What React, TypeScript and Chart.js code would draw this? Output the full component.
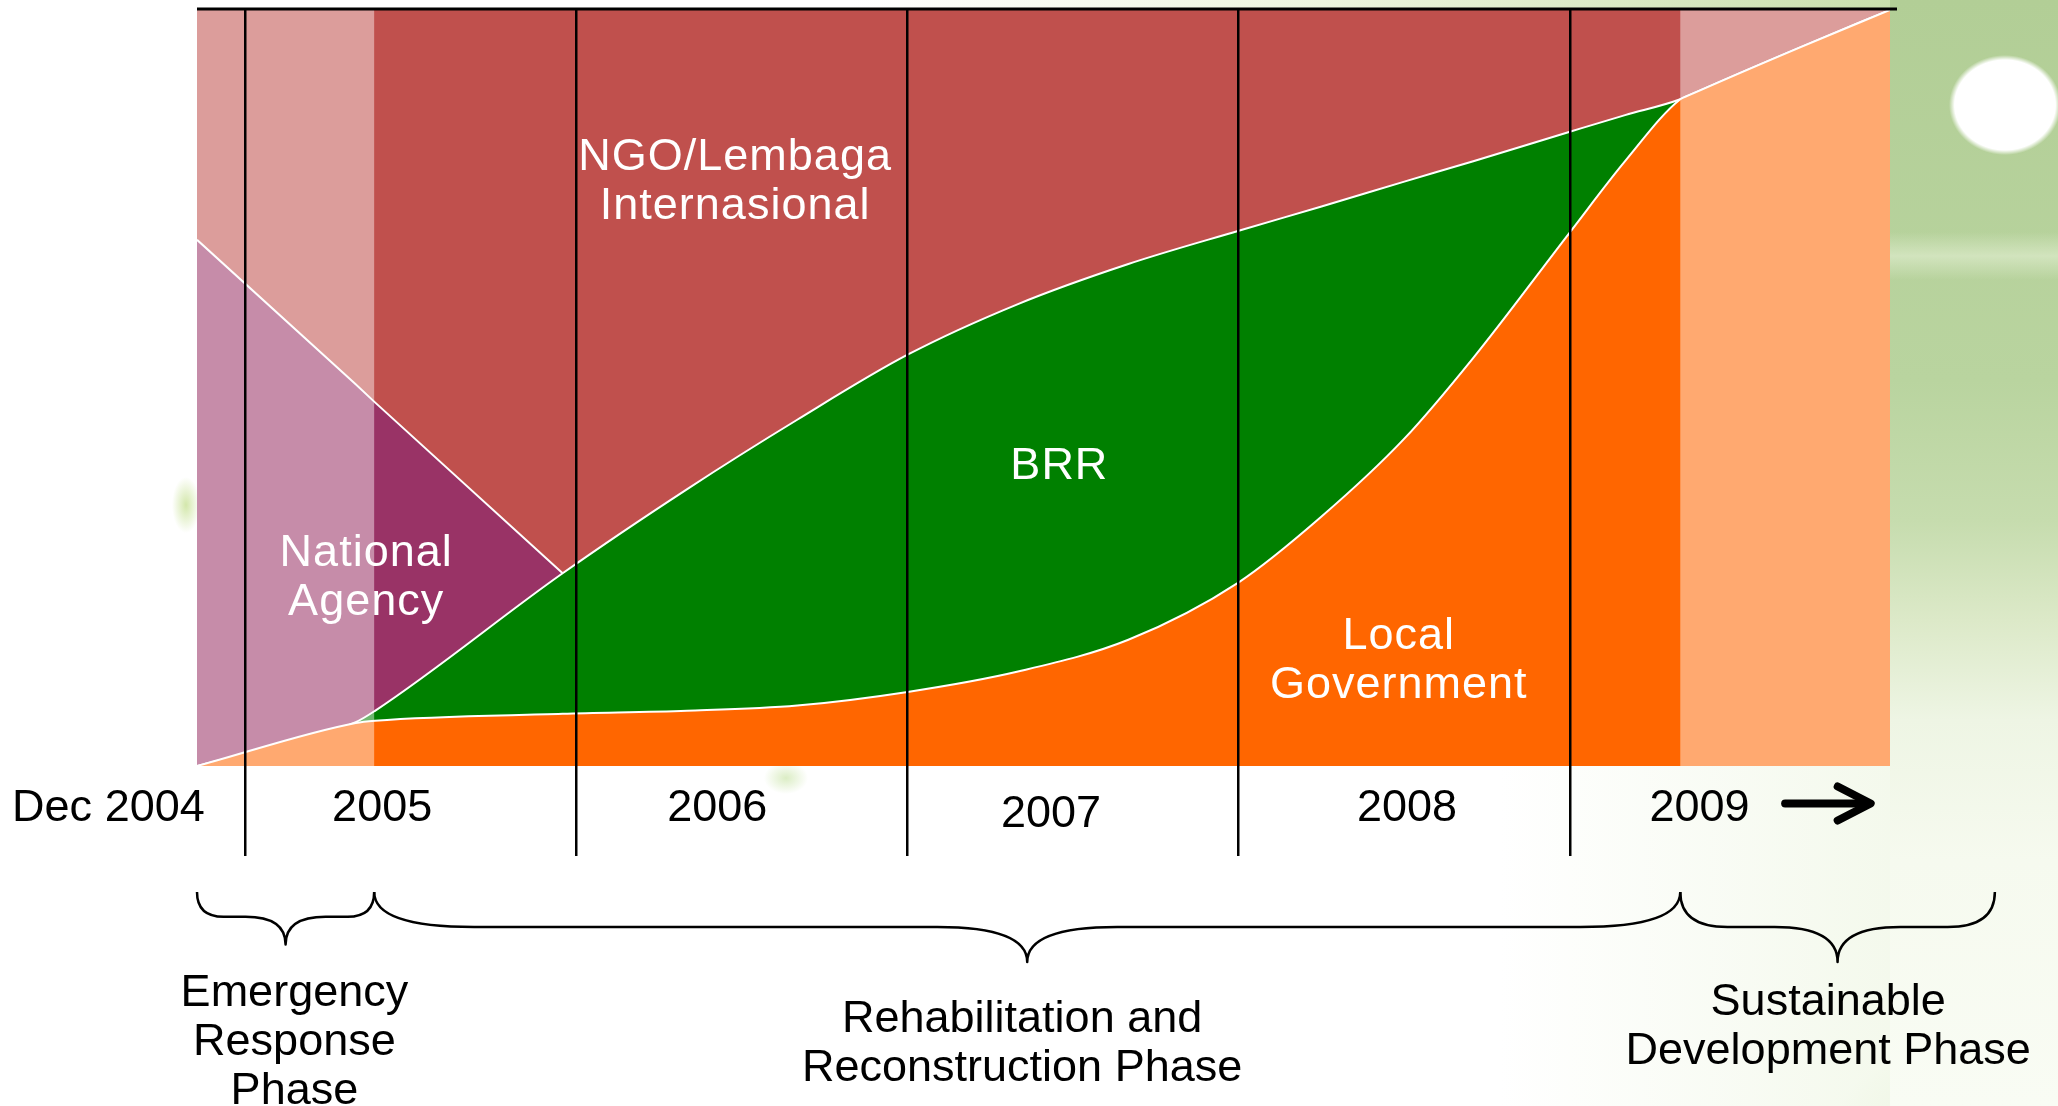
import React, { useEffect, useRef } from 'react';
import { Chart, registerables } from 'chart.js';

Chart.register(...registerables);

// ---- data (x in months counted from the start of 2005; y in % share) ----
const MONTHS = [-1.75, 4, 4.7, 11.5, 16, 20, 24, 28, 32, 36, 39, 42, 44.5, 48, 50, 52, 52.3, 56.3, 59.6];
const LOCAL_GOVERNMENT = [0, 5.7, 6.0, 6.9, 7.3, 8.0, 9.8, 12.5, 16.7, 24.3, 33.0, 43.3, 54.0, 70.6, 80.0, 88.2, 88.7, 95.0, 100];
const BRR = [0, 0.1, 1.3, 18.6, 29.3, 37.8, 44.6, 48.6, 49.7, 46.5, 41.0, 34.0, 26.0, 13.3, 6.1, 0, 0, 0, 0];
const NATIONAL_AGENCY = [69.6, 44.7, 40.8, 0, null, null, null, null, null, null, null, null, null, null, null, null, null, null, null];
const NGO_INTERNATIONAL = [30.4, 49.5, 51.9, 74.5, 63.4, 54.2, 45.6, 38.9, 33.6, 29.2, 26.0, 22.7, 20.0, 16.1, 13.9, 11.8, 11.3, 5.0, 0];

const X_MIN = -1.75;
const X_MAX = 59.6;
const YEAR_LINES = [0, 12, 24, 36, 48];
const YEAR_LABELS = ['Dec 2004', '2005', '2006', '2007', '2008', '2009'];
const YEAR_LABEL_AT = [-4.96, 4.96, 17.1, 29.2, 42.1, 52.7];

const PHASE_NAMES = [
  ['Emergency', 'Response', 'Phase'],
  ['Rehabilitation and', 'Reconstruction Phase'],
  ['Sustainable', 'Development Phase'],
];
const PHASE_START = [-1.75, 4.67, 52];
const PHASE_END = [4.67, 52, 63.4];
const PHASE_LABEL_AT = [1.78, 28.15, 57.36];
const LIGHT_PHASES = [0, 2];

const AREA_LABELS = [['NGO/Lembaga', 'Internasional'], ['BRR'], ['National', 'Agency'], ['Local', 'Government']];
const AREA_LABEL_X = [17.75, 29.5, 4.38, 41.8];
const AREA_LABEL_Y = [77.3, 39.6, 24.9, 13.9];

const ARROW_FROM = 55.8;
const ARROW_TO = 58.9;

// ---- layout / style ----
const FONT = '45px "Liberation Sans", Arial, sans-serif';
const LINE_H = 49;
const YEAR_LABEL_DY = [43, 43, 43, 49, 43, 43];
const BRACE_TOP = 126;
const PHASE_TEXT_TOP = [228, 254, 237];

function drawBrace(ctx: CanvasRenderingContext2D, x0: number, x1: number, top: number) {
  const w = x1 - x0;
  const k = Math.min(1, w / 250);
  const yf = top + 35 * k;
  const yt = top + 70 * k + (k < 1 ? 3 : 0);
  const endR = Math.max(25, Math.min(100, w * 0.15));
  const tipR = Math.max(40, Math.min(90, w * 0.2));
  const mid = (x0 + x1) / 2;
  ctx.beginPath();
  ctx.moveTo(x0, top);
  ctx.quadraticCurveTo(x0, yf, x0 + endR, yf);
  ctx.lineTo(mid - tipR, yf);
  ctx.quadraticCurveTo(mid, yf, mid, yt);
  ctx.quadraticCurveTo(mid, yf, mid + tipR, yf);
  ctx.lineTo(x1 - endR, yf);
  ctx.quadraticCurveTo(x1, yf, x1, top);
  ctx.stroke();
}

const decorPlugin = {
  id: 'decor',
  afterDatasetsDraw(chart: any) {
    const { ctx, chartArea: a, scales } = chart;
    const x = scales.x;
    ctx.save();
    ctx.fillStyle = 'rgba(255,255,255,0.44)';
    LIGHT_PHASES.forEach((i) => {
      const x0 = Math.max(a.left, x.getPixelForValue(PHASE_START[i]));
      const x1 = Math.min(a.right, x.getPixelForValue(PHASE_END[i]));
      ctx.fillRect(x0, a.top, x1 - x0, a.bottom - a.top);
    });
    ctx.restore();
  },
  afterDraw(chart: any) {
    const { ctx, chartArea: a, scales } = chart;
    const x = scales.x;
    const y = scales.y;
    ctx.save();
    // top rule
    ctx.strokeStyle = '#000';
    ctx.lineWidth = 3;
    ctx.beginPath();
    ctx.moveTo(a.left, a.top - 1);
    ctx.lineTo(a.right + 7, a.top - 1);
    ctx.stroke();

    ctx.font = FONT;
    ctx.textAlign = 'center';
    ctx.textBaseline = 'middle';

    // labels inside the areas
    ctx.fillStyle = '#ffffff';
    (ctx as any).letterSpacing = '1px';
    AREA_LABELS.forEach((lines, i) => {
      const cx = x.getPixelForValue(AREA_LABEL_X[i]);
      const cy = y.getPixelForValue(AREA_LABEL_Y[i]);
      lines.forEach((t, j) => ctx.fillText(t, cx, cy + (j - (lines.length - 1) / 2) * LINE_H));
    });
    (ctx as any).letterSpacing = '0px';

    // year labels
    ctx.fillStyle = '#000';
    YEAR_LABELS.forEach((t, i) => {
      ctx.fillText(t, x.getPixelForValue(YEAR_LABEL_AT[i]), a.bottom + YEAR_LABEL_DY[i]);
    });

    // arrow
    const ax0 = x.getPixelForValue(ARROW_FROM);
    const ax1 = x.getPixelForValue(ARROW_TO);
    const ay = a.bottom + 37.5;
    ctx.lineWidth = 8;
    ctx.lineCap = 'round';
    ctx.lineJoin = 'round';
    ctx.beginPath();
    ctx.moveTo(ax0, ay);
    ctx.lineTo(ax1 - 4, ay);
    ctx.stroke();
    ctx.beginPath();
    ctx.moveTo(ax1 - 33, ay - 17);
    ctx.lineTo(ax1, ay);
    ctx.lineTo(ax1 - 33, ay + 17);
    ctx.stroke();

    // phase braces and names
    ctx.lineWidth = 2.5;
    ctx.lineCap = 'butt';
    PHASE_NAMES.forEach((lines, i) => {
      const x0 = x.getPixelForValue(PHASE_START[i]);
      const x1 = x.getPixelForValue(PHASE_END[i]);
      drawBrace(ctx, x0, x1, a.bottom + BRACE_TOP);
      const lx = x.getPixelForValue(PHASE_LABEL_AT[i]);
      lines.forEach((t, j) => ctx.fillText(t, lx, a.bottom + PHASE_TEXT_TOP[i] + j * LINE_H));
    });
    ctx.restore();
  },
};

function series(label: string, values: (number | null)[], color: string, extra: any = {}) {
  return {
    label,
    data: MONTHS.map((m, i) => ({ x: m, y: values[i] })),
    backgroundColor: color,
    borderColor: '#ffffff',
    borderWidth: 2,
    fill: 'origin',
    pointRadius: 0,
    pointHoverRadius: 0,
    cubicInterpolationMode: 'monotone',
    spanGaps: false,
    ...extra,
  };
}

const BG = [
  'radial-gradient(ellipse 56px 50px at 2005px 105px, #ffffff 90%, rgba(255,255,255,0) 100%)',
  'linear-gradient(to bottom, rgba(255,255,255,0), rgba(228,240,212,0.6), rgba(255,255,255,0)) 1890px 232px / 168px 48px no-repeat',
  'linear-gradient(to bottom, #b2ce96 0px, #b9d49f 380px, #c6dcae 520px, #dce9c8 620px, #eef5e4 720px, #f6faef 860px, #f9fcf4 1106px) 1890px 0px / 168px 1106px no-repeat',
  'linear-gradient(to right, rgba(255,255,255,0) 0px, rgba(242,248,233,0.85) 390px) 1500px 766px / 390px 340px no-repeat',
  'linear-gradient(to right, #ffffff 0%, #ffffff 45%, #edf5de 70%, #c9dfad 100%) 0px 0px / 1890px 9px no-repeat',
  'radial-gradient(ellipse 150px 70px at 1990px 1115px, rgba(200,222,175,0.9) 0%, rgba(255,255,255,0) 100%)',
  'radial-gradient(ellipse 14px 28px at 186px 505px, rgba(200,225,150,0.8) 0%, rgba(255,255,255,0) 100%)',
  'radial-gradient(ellipse 22px 16px at 786px 778px, rgba(215,235,190,0.9) 0%, rgba(255,255,255,0) 100%)',
  '#ffffff',
].join(', ');

export default function App() {
  const ref = useRef<HTMLCanvasElement>(null);

  useEffect(() => {
    if (!ref.current) return;
    const chart = new Chart(ref.current, {
      type: 'line',
      data: {
        datasets: [
          series('Local Government', LOCAL_GOVERNMENT, '#FF6600'),
          series('BRR', BRR, '#008000'),
          series('National Agency', NATIONAL_AGENCY, '#993366', { cubicInterpolationMode: 'default', tension: 0 }),
          series('NGO/Lembaga Internasional', NGO_INTERNATIONAL, '#C0504D', { borderWidth: 0 }),
        ] as any,
      },
      options: {
        responsive: false,
        animation: false,
        devicePixelRatio: 1,
        events: [],
        layout: { padding: { left: 197, right: 168, top: 10, bottom: 250 } },
        plugins: {
          legend: { display: false },
          tooltip: { enabled: false },
        },
        scales: {
          x: {
            type: 'linear',
            min: X_MIN,
            max: X_MAX,
            afterBuildTicks: (axis: any) => {
              axis.ticks = YEAR_LINES.map((v) => ({ value: v }));
            },
            grid: {
              color: '#000000',
              lineWidth: 2.5,
              tickLength: 90,
              drawTicks: true,
              drawOnChartArea: true,
              z: 1,
            },
            border: { display: false },
            ticks: { display: false },
          },
          y: {
            stacked: true,
            min: 0,
            max: 100,
            display: false,
          },
        },
      } as any,
      plugins: [decorPlugin],
    });
    return () => chart.destroy();
  }, []);

  return (
    <div
      style={{
        position: 'fixed',
        left: 0,
        top: 0,
        width: 2058,
        height: 1106,
        overflow: 'hidden',
        background: BG,
      }}
    >
      <canvas ref={ref} width={2058} height={1106} style={{ display: 'block', width: 2058, height: 1106 }} />
    </div>
  );
}
